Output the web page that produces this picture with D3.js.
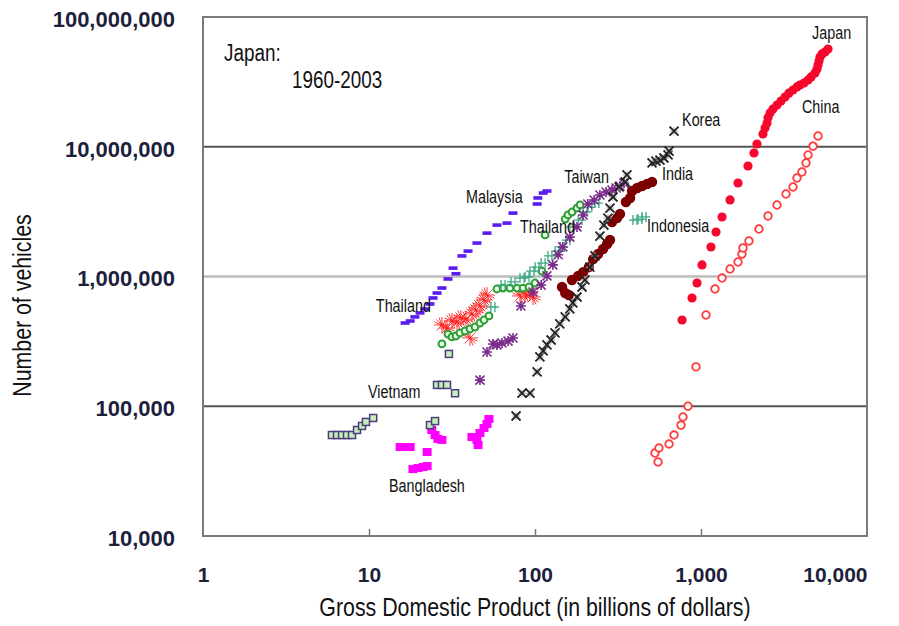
<!DOCTYPE html>
<html>
<head>
<meta charset="utf-8">
<script src="https://cdn.jsdelivr.net/npm/d3@7"></script>
<style>
  body { margin: 0; background: #fff; }
  text { font-family: "Liberation Sans", Arial, sans-serif; }
</style>
</head>
<body>
<div id="chart"></div>
<script>
// GDP (billions of dollars) vs number of vehicles
var japan = [[769,462000],[883,683000],[946,891000],[1014,1227000],[1148,1688000],[1231,2203000],
  [1339,2875000],[1496,3890000],[1671,5257000],[1919,7106000],[2086,8954000],[2174,10500000],
  [2362,12540000],[2430,13960000],[2500,15240000],[2533,16700000],[2605,18200000],[2716,19500000],
  [2870,20970000],[3034,22500000],[3207,24170000],[3388,25900000],[3583,27380000],[3785,28900000],
  [3947,29920000],[4171,31000000],[4413,32690000],[4603,34500000],[4861,37000000],[5000,39700000],
  [5070,42660000],[5140,45800000],[5212,49170000],[5358,51900000],[5585,53700000],[5823,56650000]];

var china = [[551,37200],[528,43600],[558,47700],[642,51200],[688,60000],[758,71600],[779,82600],
  [835,100000],[933,201000],[1072,505000],[1214,801000],[1339,973000],[1496,1143000],[1671,1294000],
  [1766,1489000],[1791,1660000],[1945,1879000],[2234,2323000],[2533,2926000],[2870,3556000],
  [3251,4325000],[3583,4898000],[3785,5741000],[4055,6387000],[4292,7496000],[4413,8636000],
  [4728,10100000],[5070,12100000]];

var korea = [[76.9,84100],[83.5,126000],[93.3,126000],[103,184000],[107,240000],[112,267000],
  [118,297000],[125,324000],[132,367000],[141,431000],[152,488000],[162,562000],[169,625000],
  [179,695000],[192,830000],[200,940000],[214,1180000],[230,1440000],[246,2050000],[260,2490000],
  [275,2820000],[283,3370000],[295,4100000],[321,4900000],[349,5350000],[358,6060000],[507,7500000],
  [535,7760000],[566,7900000],[598,8190000],[633,8640000],[642,9270000],[688,13200000]];

var india = [[145.5,830000],[152,746000],[160,720000],[167,940000],[182,1010000],[195,1080000],
  [211,1180000],[224,1360000],[240,1490000],[257,1630000],[272,1780000],[283,1910000],[291,2630000],
  [312,2820000],[325,3030000],[353,3750000],[374,4030000],[384,4560000],[412,4810000],[441,4980000],
  [473,5160000],[507,5350000]];

var indonesia = [[55.8,582000],[64.2,859000],[73.7,908000],[83.5,973000],[89.5,991000],[95.9,1100000],
  [103,1180000],[112,1270000],[123,1440000],[136,1570000],[146,1690000],[158,1910000],[167,2410000],
  [187,2720000],[200,3140000],[214,3430000],[236,3680000],[400,2720000],[429,2770000],[454,2880000]];

var thailandA = [[27.5,302000],[29.9,360000],[31.6,342000],[33.4,348000],[35.3,367000],[37.9,380000],
  [40.6,394000],[43.5,408000],[46.6,438000],[49.3,462000],[52.8,497000],[59.0,801000],[64.2,815000],
  [70.7,815000],[78.0,815000],[84.7,815000],[92.0,830000],[100,891000],[110,1100000],[115,2090000],
  [152,2770000],[158,2980000],[167,3140000],[179,3370000],[187,3560000]];

var thailandB = [[27.5,423000],[29.5,401000],[31.6,454000],[33.9,446000],[35.8,479000],[38.4,470000],
  [40.6,336000],[41.7,514000],[44.1,552000],[46.6,593000],[49.3,659000],[51.4,720000],[81.2,708000],
  [87.1,733000],[93.3,746000],[97.3,695000]];

var taiwan = [[46.6,159000],[51.4,262000],[55.8,302000],[59.0,297000],[63.3,307000],[68.8,318000],
  [73.7,336000],[82.3,593000],[97.3,760000],[109,859000],[118,1010000],[128,1230000],[138,1470000],
  [147,1690000],[162,2010000],[179,2410000],[195,2980000],[208,3620000],[227,3890000],[246,4250000],
  [268,4480000],[291,4640000],[308,4810000],[325,4980000],[344,5250000]];

var malaysia = [[16.5,438000],[17.7,454000],[18.9,488000],[20.3,524000],[21.7,562000],[23.3,614000],
  [24.3,683000],[25.7,746000],[27.5,815000],[29.9,957000],[32.1,1160000],[33.4,1050000],[36.3,1440000],
  [39.5,1570000],[44.7,1810000],[51.4,2160000],[59.0,2490000],[67.8,2580000],[73.7,3080000],
  [103,3620000],[104,4030000],[112,4400000],[118,4560000]];

var vietnam = [[5.98,60000],[6.42,60000],[6.88,60000],[7.37,60000],[7.90,60000],[8.47,65600],
  [9.08,70500],[9.59,75700],[10.6,81200],[23.3,71600],[25.0,76900],[25.7,146000],[27.5,146000],
  [29.5,146000],[33.0,126000],[30.3,253000]];

var bangladesh = [[15.4,48500],[16.5,48500],[17.7,48500],[22.4,44400],[18.4,32800],[19.7,33400],
  [21.2,34000],[22.4,34600],[23.9,65600],[25.0,60000],[26.0,56000],[27.5,55000],[41.7,57900],
  [44.7,55000],[45.4,50200],[46.6,62200],[49.3,67900],[51.4,73000],[52.8,79800]];

var xTicks = [1, 10, 100, 1000, 10000];
var yTicks = [10000, 100000, 1000000, 10000000, 100000000];
var gridValues = [100000, 1000000, 10000000];

// label text with the data point where its left baseline sits
var labels = [["Japan",4667,67600000],["China",4055,18200000],["Korea",769,14500000],
  ["India",582,5550000],["Indonesia",473,2200000],["Taiwan",150,5260000],["Malaysia",38.4,3680000],
  ["Thailand",81.2,2160000],["Thailand",11.0,532000],["Vietnam",9.86,116000],["Bangladesh",13.2,21800]];

var width = 899, height = 626;
var plotL = 203, plotR = 867, plotT = 17, plotB = 536;

var x = d3.scaleLog().domain([1, 10000]).range([plotL, plotR]);
var y = d3.scaleLog().domain([10000, 100000000]).range([plotB, plotT]);

var svg = d3.select("#chart").append("svg")
  .attr("width", width)
  .attr("height", height)
  .style("background", "#fff");

// squeeze Liberation Sans into a narrow face
function narrow(sel, k) {
  sel.each(function() {
    var w = this.getComputedTextLength();
    d3.select(this).attr("textLength", w * k).attr("lengthAdjust", "spacingAndGlyphs");
  });
}

// grid lines
svg.selectAll("line.grid")
  .data(gridValues)
  .enter().append("line")
  .attr("class", "grid")
  .attr("x1", plotL).attr("x2", plotR)
  .attr("y1", function(d) { return y(d); })
  .attr("y2", function(d) { return y(d); })
  .attr("stroke", function(d) { return d === 1000000 ? "#bdbdbd" : "#555"; })
  .attr("stroke-width", function(d) { return d === 1000000 ? 2.5 : 1.8; });

// axes
var xAxis = svg.append("g")
  .attr("transform", "translate(0," + plotB + ")")
  .call(d3.axisBottom(x).tickValues(xTicks).tickFormat(d3.format(",")).tickSizeInner(-7).tickSizeOuter(0).tickPadding(31));
xAxis.select(".domain").remove();
xAxis.selectAll(".tick line").attr("stroke", "#777").attr("stroke-width", 1.5)
  .filter(function(d) { return d === 1 || d === 10000; }).remove();
xAxis.selectAll("text")
  .attr("fill", "#1e1f3c").attr("font-size", 21).attr("font-weight", "bold")
  .style("font-family", "'Liberation Sans', Arial, sans-serif");
// last label is kept inside the frame
xAxis.selectAll("text").filter(function(d) { return d === 10000; })
  .attr("text-anchor", "end");

var yAxis = svg.append("g")
  .attr("transform", "translate(" + plotL + ",0)")
  .call(d3.axisLeft(y).tickValues(yTicks).tickFormat(d3.format(",")).tickSize(0).tickPadding(28));
yAxis.select(".domain").remove();
yAxis.selectAll("text")
  .attr("fill", "#1e1f3c").attr("font-size", 22).attr("font-weight", "bold").attr("dy", "0.42em")
  .style("font-family", "'Liberation Sans', Arial, sans-serif");

// plot frame
svg.append("rect")
  .attr("x", plotL).attr("y", plotT)
  .attr("width", plotR - plotL).attr("height", plotB - plotT)
  .attr("fill", "none").attr("stroke", "#7a7a7a").attr("stroke-width", 2);

function pos(d) { return "translate(" + x(d[0]) + "," + y(d[1]) + ")"; }

function series(data, cls) {
  return svg.append("g").selectAll("g." + cls)
    .data(data).enter().append("g")
    .attr("class", cls)
    .attr("transform", pos);
}

// Bangladesh: magenta squares
series(bangladesh, "bd").append("rect")
  .attr("x", -4.5).attr("y", -4).attr("width", 9).attr("height", 8)
  .attr("fill", "#ff00ff");

// Vietnam: open squares
series(vietnam, "vn").append("rect")
  .attr("x", -3.5).attr("y", -3.5).attr("width", 7).attr("height", 7)
  .attr("fill", "#c4f0b8").attr("stroke", "#4d3d7e").attr("stroke-width", 1.5);

// Malaysia: blue dashes
series(malaysia, "my").append("rect")
  .attr("x", -4.5).attr("y", -1.8).attr("width", 9).attr("height", 3.6)
  .attr("fill", "#5a1cf0");

// red asterisks
series(thailandB, "thb").append("path")
  .attr("d", "M-8,0H8M0,-8V8M-5.5,-5.5L5.5,5.5M-5.5,5.5L5.5,-5.5M-3,-7.5L3,7.5M-7.5,-3L7.5,3")
  .attr("stroke", "#ff2020").attr("stroke-width", 0.9).attr("fill", "none");

// green open diamonds
series(thailandA, "tha").append("circle")
  .attr("r", 3.4)
  .attr("fill", "#eaffea").attr("stroke", "#2f9e35").attr("stroke-width", 2);

// teal plus signs
series(indonesia, "id").append("path")
  .attr("d", "M-6,0H6M-2,-5V5M2,-5V5")
  .attr("stroke", "#3aa97f").attr("stroke-width", 1.3).attr("fill", "none");

// purple stars
series(taiwan, "tw").append("path")
  .attr("d", "M-4.5,-4.5L4.5,4.5M-4.5,4.5L4.5,-4.5M0,-5V5M-5,0H5")
  .attr("stroke", "#7b2c8c").attr("stroke-width", 1.6).attr("fill", "none");

// India: maroon dots
series(india, "in").append("circle")
  .attr("r", 5.2).attr("fill", "#7d0000");

// Korea: crosses
var kr = series(korea, "kr");
kr.append("path").attr("d", "M0,-4V4M-4,0H4")
  .attr("stroke", "#aaa").attr("stroke-width", 1);
kr.append("path").attr("d", "M-4.5,-4.5L4.5,4.5M-4.5,4.5L4.5,-4.5")
  .attr("stroke", "#222").attr("stroke-width", 1.8);

// China: open red circles
series(china, "cn").append("circle")
  .attr("r", 3.8).attr("fill", "#fff").attr("stroke", "#ff3b3b").attr("stroke-width", 1.8);

// Japan: filled red circles
series(japan, "jp").append("circle")
  .attr("r", 4.6).attr("fill", "#f5082c");

// country labels
svg.selectAll("text.country")
  .data(labels)
  .enter().append("text")
  .attr("class", "country")
  .attr("x", function(d) { return x(d[1]); })
  .attr("y", function(d) { return y(d[2]); })
  .attr("font-size", 17.5)
  .attr("fill", "#111")
  .text(function(d) { return d[0]; })
  .call(narrow, 0.82);

// annotation
svg.append("text").attr("x", 224).attr("y", 61).attr("font-size", 23).attr("fill", "#111")
  .text("Japan:").call(narrow, 0.82);
svg.append("text").attr("x", 292).attr("y", 88).attr("font-size", 23).attr("fill", "#111")
  .text("1960-2003").call(narrow, 0.82);

// axis titles
svg.append("text")
  .attr("x", (plotL + plotR) / 2).attr("y", 616)
  .attr("text-anchor", "middle").attr("font-size", 26).attr("fill", "#111")
  .text("Gross Domestic Product (in billions of dollars)").call(narrow, 0.82);

svg.append("text")
  .attr("transform", "translate(31," + ((plotT + plotB) / 2 + 29) + ") rotate(-90)")
  .attr("text-anchor", "middle").attr("font-size", 26).attr("fill", "#111")
  .text("Number of vehicles").call(narrow, 0.82);
</script>
</body>
</html>
